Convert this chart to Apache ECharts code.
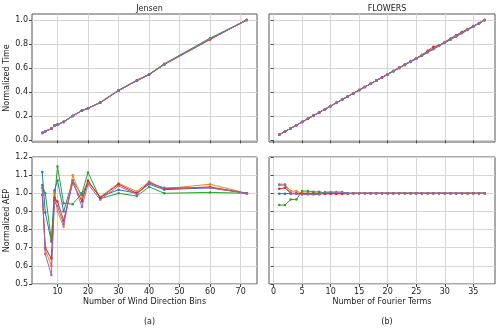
<!DOCTYPE html>
<html>
<head>
<meta charset="utf-8">
<script src="https://cdn.jsdelivr.net/npm/echarts@6/dist/echarts.min.js"></script>
<style>
  html, body { margin: 0; padding: 0; background: #fff; }
  #chart { width: 500px; height: 329px; }
</style>
</head>
<body>
<div id="chart"></div>
<script>
// 数据
const seriesNames = ['s1', 's2', 's3', 's4', 's5'];
const colors = ['#1f77b4', '#ff7f0e', '#2ca02c', '#d62728', '#9467bd'];

const jensenBins = [5, 6, 8, 9, 10, 12, 15, 18, 20, 24, 30, 36, 40, 45, 60, 72];
const jensenTime = [0.061, 0.075, 0.097, 0.122, 0.130, 0.153, 0.203, 0.247, 0.267, 0.314, 0.414, 0.497, 0.547, 0.633, 0.842, 1.0];
const jensenTimeGreen = [0.062, 0.076, 0.098, 0.123, 0.131, 0.154, 0.204, 0.248, 0.268, 0.316, 0.417, 0.500, 0.550, 0.637, 0.850, 1.0];
const jensenTimeRed = [0.061, 0.075, 0.096, 0.121, 0.129, 0.152, 0.202, 0.246, 0.266, 0.312, 0.412, 0.495, 0.545, 0.630, 0.838, 1.0];

const jensenAepBlue = [1.117, 0.894, 0.734, 1.016, 1.071, 0.900, 1.070, 0.990, 1.065, 0.980, 1.020, 1.000, 1.050, 1.020, 1.030, 1.0];
const jensenAepOrange = [1.030, 0.690, 0.600, 1.005, 0.900, 0.815, 1.100, 0.970, 1.060, 0.980, 1.055, 1.010, 1.065, 1.025, 1.050, 1.0];
const jensenAepGreen = [1.045, 1.000, 0.740, 0.960, 1.148, 0.945, 0.940, 1.000, 1.115, 0.970, 1.000, 0.985, 1.035, 1.000, 1.005, 1.0];
const jensenAepRed = [0.990, 0.700, 0.640, 0.975, 0.955, 0.850, 1.060, 0.955, 1.070, 0.975, 1.050, 1.000, 1.060, 1.025, 1.035, 1.0];
const jensenAepPurple = [1.030, 0.665, 0.550, 0.950, 0.930, 0.830, 1.070, 0.925, 1.050, 0.965, 1.040, 0.995, 1.055, 1.030, 1.030, 1.0];

const fourierTerms = [1, 2, 3, 4, 5, 6, 7, 8, 9, 10, 11, 12, 13, 14, 15, 16, 17, 18, 19, 20, 21, 22, 23, 24, 25, 26, 27, 28, 29, 30, 31, 32, 33, 34, 35, 36, 37];
const flowersTime = [0.047, 0.073, 0.100, 0.126, 0.153, 0.179, 0.206, 0.232, 0.259, 0.285, 0.312, 0.338, 0.365, 0.391, 0.418, 0.444, 0.470, 0.497, 0.523, 0.550, 0.576, 0.603, 0.629, 0.656, 0.682, 0.709, 0.735, 0.762, 0.788, 0.815, 0.841, 0.868, 0.894, 0.921, 0.947, 0.974, 1.0];
const flowersTimeGreen = [0.047, 0.073, 0.099, 0.125, 0.152, 0.178, 0.205, 0.231, 0.258, 0.284, 0.311, 0.337, 0.364, 0.390, 0.417, 0.443, 0.469, 0.495, 0.521, 0.547, 0.573, 0.599, 0.625, 0.651, 0.677, 0.703, 0.729, 0.756, 0.783, 0.810, 0.836, 0.862, 0.889, 0.916, 0.944, 0.972, 1.0];
const flowersTimeRed = [0.047, 0.073, 0.100, 0.126, 0.153, 0.179, 0.206, 0.232, 0.259, 0.285, 0.312, 0.338, 0.365, 0.391, 0.418, 0.444, 0.470, 0.497, 0.523, 0.550, 0.576, 0.603, 0.629, 0.656, 0.682, 0.709, 0.745, 0.777, 0.790, 0.818, 0.846, 0.874, 0.900, 0.925, 0.950, 0.975, 1.0];

const flowersAepBlue = [0.998, 0.998, 0.999, 0.999, 1.0, 1.0, 1.0, 1.0, 1.0, 1.0, 1.0, 1.0, 1.0, 1.0, 1.0, 1.0, 1.0, 1.0, 1.0, 1.0, 1.0, 1.0, 1.0, 1.0, 1.0, 1.0, 1.0, 1.0, 1.0, 1.0, 1.0, 1.0, 1.0, 1.0, 1.0, 1.0, 1.0];
const flowersAepOrange = [1.050, 1.050, 1.012, 1.012, 1.0, 1.0, 1.0, 1.0, 1.0, 1.0, 1.0, 1.0, 1.0, 1.0, 1.0, 1.0, 1.0, 1.0, 1.0, 1.0, 1.0, 1.0, 1.0, 1.0, 1.0, 1.0, 1.0, 1.0, 1.0, 1.0, 1.0, 1.0, 1.0, 1.0, 1.0, 1.0, 1.0];
const flowersAepGreen = [0.935, 0.935, 0.966, 0.966, 1.012, 1.012, 1.008, 1.008, 1.002, 1.002, 1.0, 1.0, 1.0, 1.0, 1.0, 1.0, 1.0, 1.0, 1.0, 1.0, 1.0, 1.0, 1.0, 1.0, 1.0, 1.0, 1.0, 1.0, 1.0, 1.0, 1.0, 1.0, 1.0, 1.0, 1.0, 1.0, 1.0];
const flowersAepRed = [1.025, 1.030, 1.0, 1.0, 0.998, 0.998, 0.997, 0.997, 0.997, 0.997, 0.997, 0.997, 0.998, 1.0, 1.0, 1.0, 1.0, 1.0, 1.0, 1.0, 1.0, 1.0, 1.0, 1.0, 1.0, 1.0, 1.0, 1.0, 1.0, 1.0, 1.0, 1.0, 1.0, 1.0, 1.0, 1.0, 1.0];
const flowersAepPurple = [1.045, 1.045, 0.997, 0.997, 0.993, 0.993, 0.993, 0.993, 1.007, 1.007, 1.007, 1.007, 1.0, 1.0, 1.0, 1.0, 1.0, 1.0, 1.0, 1.0, 1.0, 1.0, 1.0, 1.0, 1.0, 1.0, 1.0, 1.0, 1.0, 1.0, 1.0, 1.0, 1.0, 1.0, 1.0, 1.0, 1.0];

const jensenTicks = [10, 20, 30, 40, 50, 60, 70];
const fourierTicks = [0, 5, 10, 15, 20, 25, 30, 35];
const timeTicks = [0, 0.2, 0.4, 0.6, 0.8, 1.0];
const aepTicks = [0.5, 0.6, 0.7, 0.8, 0.9, 1.0, 1.1, 1.2];

const jensenTimeSets = [jensenTime, jensenTime, jensenTimeGreen, jensenTimeRed, jensenTime];
const jensenAepSets = [jensenAepBlue, jensenAepOrange, jensenAepGreen, jensenAepRed, jensenAepPurple];
const flowersTimeSets = [flowersTime, flowersTime, flowersTimeGreen, flowersTimeRed, flowersTime];
const flowersAepSets = [flowersAepBlue, flowersAepOrange, flowersAepGreen, flowersAepRed, flowersAepPurple];

const FONT = 'DejaVu Sans';
const textColor = '#1a1a1a';
const gridColor = '#d6d6d6';

const chart = echarts.init(document.getElementById('chart'), null, { renderer: 'canvas' });

const makeXAxis = (gridIndex, min, max, ticks, showLabel, name) => ({
  type: 'value',
  gridIndex,
  min,
  max,
  name: name || '',
  nameLocation: 'middle',
  nameGap: 14,
  nameTextStyle: { fontFamily: FONT, fontSize: 8, color: textColor },
  axisLine: { show: false },
  axisTick: { show: true, inside: false, length: 3, customValues: ticks, lineStyle: { color: '#444' } },
  axisLabel: { show: showLabel, customValues: ticks, fontFamily: FONT, fontSize: 8, color: textColor, margin: 4, formatter: v => String(v) },
  splitLine: { show: true, customValues: ticks, lineStyle: { color: gridColor, width: 1 } }
})

const makeYAxis = (gridIndex, min, max, ticks, showLabel, name) => ({
  type: 'value',
  gridIndex,
  min,
  max,
  name: name || '',
  nameLocation: 'middle',
  nameGap: 21,
  nameTextStyle: { fontFamily: FONT, fontSize: 8, color: textColor },
  axisLine: { show: false },
  axisTick: { show: true, inside: false, length: 3, customValues: ticks, lineStyle: { color: '#444' } },
  axisLabel: { show: showLabel, customValues: ticks, fontFamily: FONT, fontSize: 8, color: textColor, margin: 4, formatter: v => v.toFixed(1) },
  splitLine: { show: true, customValues: ticks, lineStyle: { color: gridColor, width: 1 } }
})

const gridStyle = { show: true, borderColor: '#555', borderWidth: 1, backgroundColor: 'transparent' };

const buildSeries = (xs, sets, xIdx, yIdx) => sets.map((ys, i) => ({
  name: seriesNames[i],
  type: 'line',
  xAxisIndex: xIdx,
  yAxisIndex: yIdx,
  data: xs.map((x, j) => [x, ys[j]]),
  symbol: 'circle',
  symbolSize: 2.5,
  showSymbol: true,
  lineStyle: { width: 1, color: colors[i] },
  itemStyle: { color: colors[i] },
  z: 2 + i
}))

const titleStyle = { fontFamily: FONT, fontSize: 8, fontWeight: 'normal', color: textColor };

const option = {
  animation: false,
  grid: [
    { left: 32, right: 243, top: 14, height: 128, ...gridStyle },
    { left: 269, right: 5, top: 14, height: 128, ...gridStyle },
    { left: 32, right: 243, top: 157, height: 127, ...gridStyle },
    { left: 269, right: 5, top: 157, height: 127, ...gridStyle }
  ],
  title: [
    { text: 'Jensen', left: 144.5, top: 0, textAlign: 'center', textStyle: titleStyle },
    { text: 'FLOWERS', left: 382, top: 0, textAlign: 'center', textStyle: titleStyle },
    { text: '(a)', left: 144.5, top: 313, textAlign: 'center', textStyle: titleStyle },
    { text: '(b)', left: 382, top: 313, textAlign: 'center', textStyle: titleStyle }
  ],
  xAxis: [
    makeXAxis(0, 1.65, 75.35, jensenTicks, false),
    makeXAxis(1, -0.8, 38.8, fourierTicks, false),
    makeXAxis(2, 1.65, 75.35, jensenTicks, true, 'Number of Wind Direction Bins'),
    makeXAxis(3, -0.8, 38.8, fourierTicks, true, 'Number of Fourier Terms')
  ],
  yAxis: [
    makeYAxis(0, -0.014, 1.05, timeTicks, true, 'Normalized Time'),
    makeYAxis(1, -0.014, 1.05, timeTicks, false),
    makeYAxis(2, 0.5, 1.2, aepTicks, true, 'Normalized AEP'),
    makeYAxis(3, 0.5, 1.2, aepTicks, false)
  ],
  series: [
    ...buildSeries(jensenBins, jensenTimeSets, 0, 0),
    ...buildSeries(fourierTerms, flowersTimeSets, 1, 1),
    ...buildSeries(jensenBins, jensenAepSets, 2, 2),
    ...buildSeries(fourierTerms, flowersAepSets, 3, 3)
  ]
}

chart.setOption(option)
</script>
</body>
</html>
